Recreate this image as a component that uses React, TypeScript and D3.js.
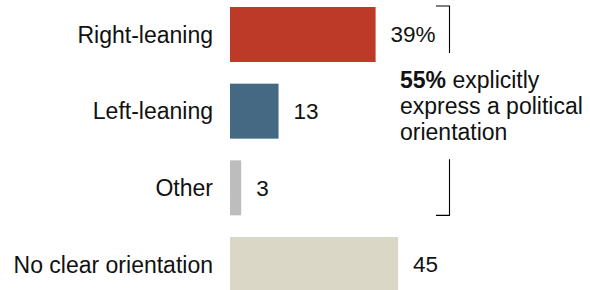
import { useEffect, useRef } from "react";
import * as d3 from "d3";

const categories = ["Right-leaning", "Left-leaning", "Other", "No clear orientation"];
const values = [39, 13, 3, 45];
const valueLabels = ["39%", "13", "3", "45"];
const colors = ["#BE3A28", "#466983", "#BDBDBD", "#DAD7C7"];
const noteLines = [
  [{ t: "55%", bold: true }, { t: " explicitly", bold: false }],
  [{ t: "express a political", bold: false }],
  [{ t: "orientation", bold: false }],
];

const FONT = "'Liberation Sans', Arial, sans-serif";

function Chart() {
  const ref = useRef<SVGSVGElement>(null);

  useEffect(() => {
    const svg = d3.select(ref.current);
    svg.selectAll("*").remove();

    const x = d3.scaleLinear().domain([0, 45]).range([230, 398]);
    const y = d3
      .scaleBand()
      .domain(categories)
      .range([7, 292])
      .paddingInner(0.283)
      .paddingOuter(0);

    const rows = categories.map((c, i) => ({ c, v: values[i], label: valueLabels[i], color: colors[i] }));

    // bars
    svg
      .append("g")
      .selectAll("rect")
      .data(rows)
      .join("rect")
      .attr("x", x(0))
      .attr("y", (d) => y(d.c)!)
      .attr("width", (d) => x(d.v) - x(0))
      .attr("height", y.bandwidth())
      .attr("fill", (d) => d.color);

    // category labels
    svg
      .append("g")
      .selectAll("text")
      .data(rows)
      .join("text")
      .attr("x", 213)
      .attr("y", (d) => y(d.c)! + y.bandwidth() / 2)
      .attr("dy", "0.35em")
      .attr("text-anchor", "end")
      .attr("font-family", FONT)
      .attr("font-size", 23)
      .attr("fill", "#111")
      .text((d) => d.c);

    // value labels
    svg
      .append("g")
      .selectAll("text")
      .data(rows)
      .join("text")
      .attr("x", (d) => x(d.v) + 15)
      .attr("y", (d) => y(d.c)! + y.bandwidth() / 2)
      .attr("dy", "0.35em")
      .attr("font-family", FONT)
      .attr("font-size", 22.5)
      .attr("fill", "#111")
      .text((d) => d.label);

    // bracket
    const bx = 449.5;
    const top = y(categories[0])! - 1;
    const bottom = y(categories[2])! + y.bandwidth();
    const br = svg.append("g").attr("fill", "none").attr("stroke", "#000").attr("stroke-width", 1.1);
    br.append("path").attr("d", `M436,${top}H${bx}V${top + 47}`);
    br.append("path").attr("d", `M${bx},${bottom - 56}V${bottom}H436`);

    // annotation
    const note = svg
      .append("text")
      .attr("font-family", FONT)
      .attr("font-size", 23)
      .attr("fill", "#111");
    noteLines.forEach((line, i) => {
      const row = note
        .append("tspan")
        .attr("x", 400)
        .attr("y", 88 + i * 26);
      line.forEach((part) => {
        row
          .append("tspan")
          .attr("font-weight", part.bold ? "bold" : "normal")
          .text(part.t);
      });
    });
  }, []);

  return (
    <svg
      ref={ref}
      width={590}
      height={290}
      style={{ position: "absolute", left: 0, top: 0, background: "#fff" }}
    />
  );
}

export default function App() {
  return <Chart />;
}
